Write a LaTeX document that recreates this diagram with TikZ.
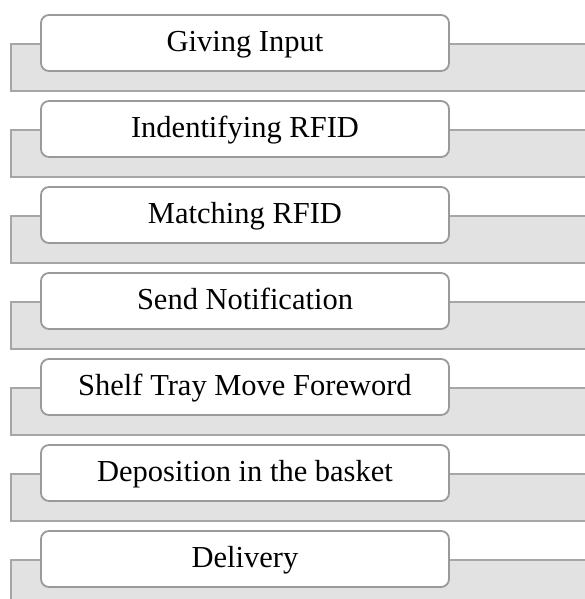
\documentclass[tikz,border=0pt]{standalone}
\usepackage{fontspec}
\setmainfont{Liberation Serif}
\definecolor{bandfill}{HTML}{E2E2E2}
\definecolor{banddraw}{HTML}{A6A6A6}
\definecolor{boxdraw}{HTML}{9A9A9A}
\tikzset{
  band/.style={fill=bandfill, draw=banddraw, line width=1.5pt},
  stepbox/.style={draw=boxdraw, fill=white, line width=1.8pt, rounded corners=8pt,
    minimum width=408pt, minimum height=56pt, inner sep=0pt,
    text height=22pt, text depth=5pt, font=\fontsize{30.5}{34}\selectfont}
}
\begin{document}
\begin{tikzpicture}[x=1pt,y=1pt]
\useasboundingbox (0,0) rectangle (585,-599);
\clip (0,0) rectangle (585,-599);
\foreach \i/\t in {0/Giving Input,1/Indentifying RFID,2/Matching RFID,3/Send Notification,4/Shelf Tray Move Foreword,5/Deposition in the basket,6/Delivery}{
  \draw[band] (11,{-44-86*\i}) rectangle (600,{-91-86*\i});
  \node[stepbox] (s\i) at (245,{-43-86*\i}) {\t};
}
\end{tikzpicture}
\end{document}
